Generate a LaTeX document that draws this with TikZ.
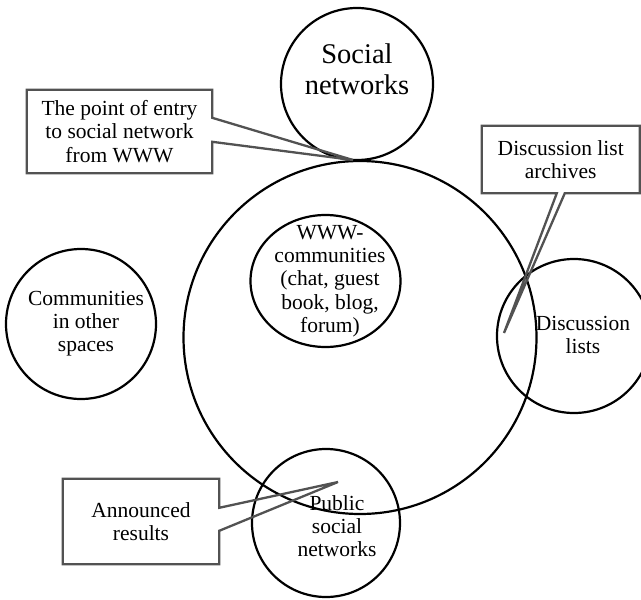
\documentclass[tikz,border=0pt]{standalone}
\usepackage{fontspec}
\setmainfont{Liberation Serif}
\usetikzlibrary{shapes.geometric}
\begin{document}
\begin{tikzpicture}[x=1pt,y=-1pt,
  ring/.style={draw=black, line width=2.2pt, circle, inner sep=0pt},
  oval/.style={draw=black, line width=2.2pt, ellipse, inner sep=0pt},
  txt/.style={align=center, inner sep=0pt, font=\fontsize{21.5}{23.3}\selectfont},
  bigtxt/.style={align=center, inner sep=0pt, font=\fontsize{28.5}{31}\selectfont},
  callout/.style={draw=black!68, line width=2.3pt, line join=miter}]
\useasboundingbox (0,0) rectangle (641,600);

% circles
\node[ring, minimum size=353pt] (web) at (360,337.5) {};
\node[ring, minimum size=152pt] (soc) at (357,84) {};
\node[ring, minimum size=150pt] (oth) at (81,324) {};
\node[ring, minimum size=154pt] (dis) at (574,336) {};
\node[ring, minimum size=148pt] (pub) at (326,523) {};
\node[oval, minimum width=150pt, minimum height=132pt] (wwwc) at (325.5,281) {};

% circle labels
\node[bigtxt] (socT) at (357,69) {Social\\networks};
\node[txt] (wwwT) at (330,281) {WWW-\\communities\\(chat, guest\\book, blog,\\forum)};
\node[txt] (othT) at (86,323.5) {Communities\\in other\\spaces};
\node[txt] (disT) at (583,335) {Discussion\\lists};
\node[txt] (pubT) at (337,526) {Public\\social\\networks};

% callout boxes
\node[txt, minimum width=185pt, minimum height=83pt] (b1) at (119.5,131.5)
  {The point of entry\\to social network\\from WWW};
\node[txt, minimum width=157.5pt, minimum height=67pt] (b2) at (560.75,159.5)
  {Discussion list\\archives};
\node[txt, minimum width=156pt, minimum height=85pt] (b3) at (141,521.5)
  {Announced\\results};

% pointer tips
\coordinate (t1) at (353,160);
\coordinate (t2) at (504,333);
\coordinate (t3) at (338,482);

\draw[callout] (b1.north west) -- (b1.north east) -- ([yshift=-28pt]b1.north east)
  -- (t1) -- ([yshift=-52pt]b1.north east) -- (b1.south east) -- (b1.south west) -- cycle;
\draw[callout] (b2.north west) -- (b2.north east) -- (b2.south east)
  -- ([xshift=83pt]b2.south west) -- (t2) -- ([xshift=75pt]b2.south west)
  -- (b2.south west) -- cycle;
\draw[callout] (b3.north west) -- (b3.north east) -- ([yshift=-29pt]b3.north east)
  -- (t3) -- ([yshift=-52pt]b3.north east) -- (b3.south east) -- (b3.south west) -- cycle;
\end{tikzpicture}
\end{document}
